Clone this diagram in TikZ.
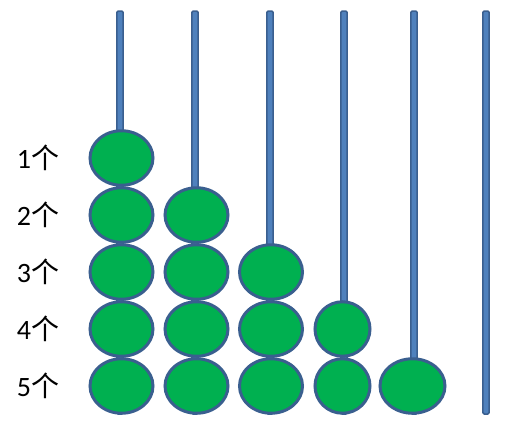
\documentclass[tikz,border=0pt]{standalone}
\usepackage{fontspec}
\setmainfont{Carlito}
\newfontfamily\cjk{Noto Sans CJK SC}
\usetikzlibrary{shapes.geometric}
\definecolor{beadgreen}{HTML}{00B050}
\definecolor{rodblue}{HTML}{4F81BD}
\definecolor{rimblue}{HTML}{3A5F8F}
\tikzset{
  bead/.style={ellipse, draw=rimblue, line width=3pt, fill=beadgreen,
    minimum width=63pt, minimum height=54.5pt, inner sep=0pt},
  rod/.style={draw=rimblue, fill=rodblue, line width=1.5pt, rounded corners=1.5pt},
  count/.style={font=\fontsize{28}{28}\selectfont, inner sep=0pt}
}
\begin{document}
\begin{tikzpicture}[x=1pt,y=-1pt]
\useasboundingbox (0,0) rectangle (512,424);
% rods
\foreach \x/\n in {120/1,195/2,270/3,344/4,414/5,486/6}
  \draw[rod] (\x-3.2,11) rectangle (\x+3.2,414);
% labels
\foreach \r/\y in {1/158,2/215,3/272,4/329,5/386}
  \node[count] (label\r) at (38,\y) {\r\cjk 个};
% beads, column c holds the rows c to 5
\foreach \c/\x/\w in {1/121.5/63,2/196.5/63,3/271/63,4/342.5/55,5/412.5/65}{
  \foreach \r/\y in {1/158,2/215,3/272,4/329,5/386}{
    \ifnum\r<\c\else
      \node[bead, minimum width=\w pt] (bead\c-\r) at (\x,\y) {};
    \fi
  }
}
\end{tikzpicture}
\end{document}
